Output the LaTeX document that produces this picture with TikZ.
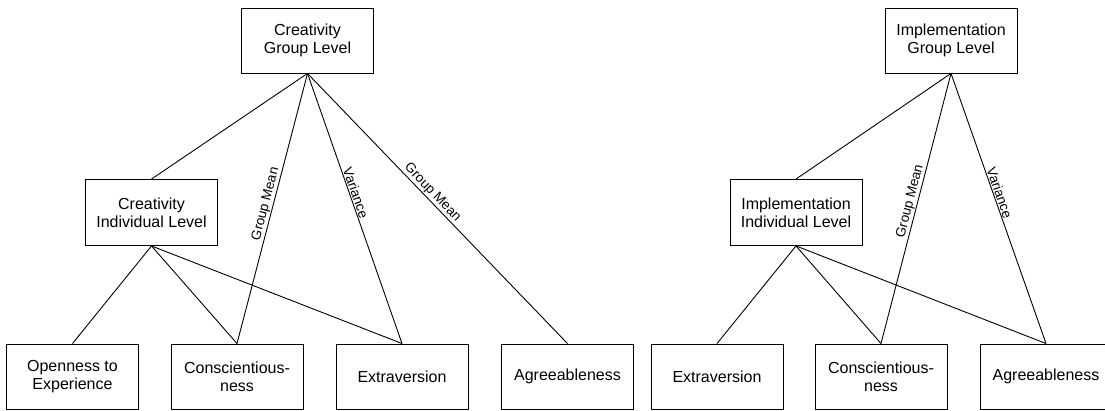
\documentclass[tikz,border=0pt]{standalone}
\usepackage{fontspec}
\setmainfont{Liberation Sans}
\usepackage{tikz}
\usepackage{xcolor}

\begin{document}
\begin{tikzpicture}[x=1pt, y=-1pt, line width=0.9pt,
  box/.style={draw, rectangle, align=center, minimum width=132pt, minimum height=65pt, inner sep=2pt, font=\fontsize{16}{18}\selectfont},
  lbl/.style={above, sloped, inner sep=0.8pt, font=\fontsize{13.5}{15}\selectfont}]
\useasboundingbox (0,0) rectangle (1105,411);

% Creativity
\node[box] (cgrp) at (307.5,40.5) {Creativity\\Group Level};
\node[box, minimum height=66pt] (cind) at (151.5,212.5) {Creativity\\Individual Level};
\node[box] (copen) at (72.5,376.5) {Openness to\\Experience};
\node[box] (ccons) at (237,376.5) {Conscientious-\\ness};
\node[box] (cextra) at (402,376.5) {Extraversion};
\node[box] (cagree) at (567.5,376.5) {Agreeableness};

\draw (cgrp.south) -- (cind.north);
\draw (cgrp.south) -- node[lbl, pos=0.49] {Group Mean} (ccons.north);
\draw (cgrp.south) -- node[lbl, pos=0.45] {Variance} (cextra.north);
\draw (cgrp.south) -- node[lbl, pos=0.46] {Group Mean} (cagree.north);
\draw (cind.south) -- (copen.north);
\draw (cind.south) -- (ccons.north);
\draw (cind.south) -- (cextra.north);

% Implementation
\node[box] (igrp) at (951,40.5) {Implementation\\Group Level};
\node[box, minimum height=66pt] (iind) at (796,212.5) {Implementation\\Individual Level};
\node[box] (iextra) at (717,376.5) {Extraversion};
\node[box] (icons) at (881,376.5) {Conscientious-\\ness};
\node[box] (iagree) at (1046,376.5) {Agreeableness};

\draw (igrp.south) -- (iind.north);
\draw (igrp.south) -- node[lbl, pos=0.48] {Group Mean} (icons.north);
\draw (igrp.south) -- node[lbl, pos=0.45] {Variance} (iagree.north);
\draw (iind.south) -- (iextra.north);
\draw (iind.south) -- (icons.north);
\draw (iind.south) -- (iagree.north);
\end{tikzpicture}
\end{document}
